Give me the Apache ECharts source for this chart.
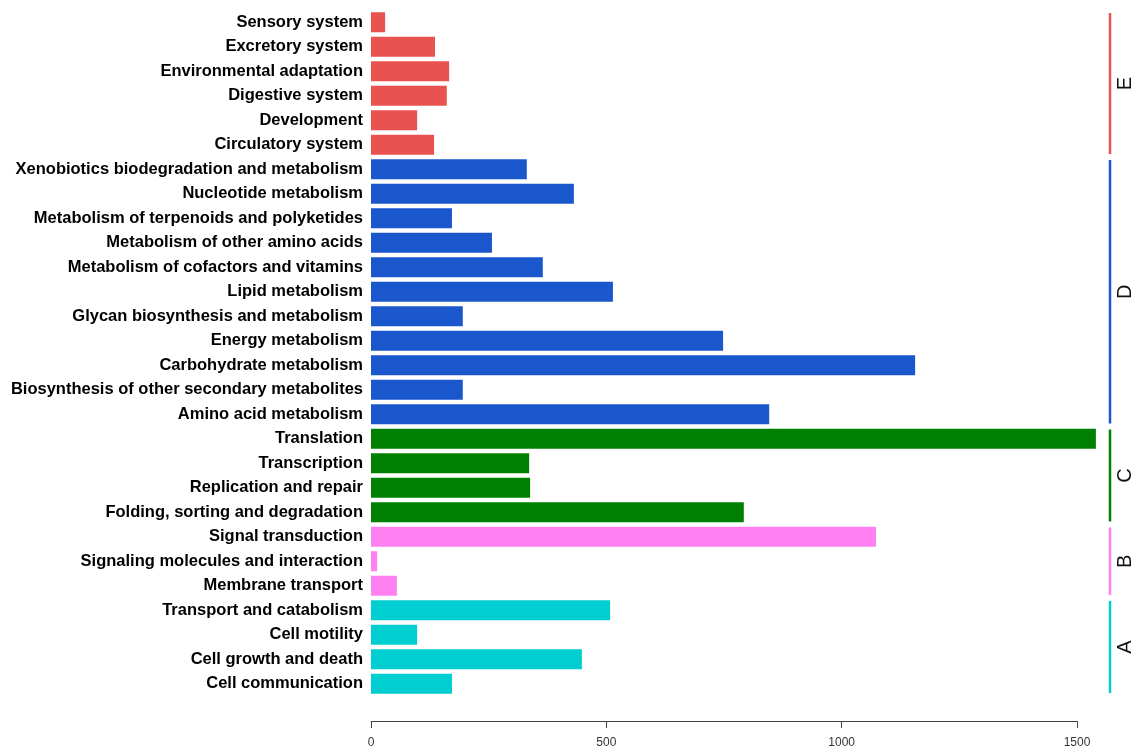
<!DOCTYPE html>
<html>
<head>
<meta charset="utf-8">
<script src="https://cdn.jsdelivr.net/npm/echarts@6/dist/echarts.min.js"></script>
<style>
  html, body { margin: 0; padding: 0; background: #fff; }
  #chart { width: 1134px; height: 749px; }
</style>
</head>
<body>
<div id="chart"></div>
<script>
// KEGG pathway categories, listed top to bottom
const categories = [
  'Sensory system', 'Excretory system', 'Environmental adaptation', 'Digestive system',
  'Development', 'Circulatory system',
  'Xenobiotics biodegradation and metabolism', 'Nucleotide metabolism',
  'Metabolism of terpenoids and polyketides', 'Metabolism of other amino acids',
  'Metabolism of cofactors and vitamins', 'Lipid metabolism',
  'Glycan biosynthesis and metabolism', 'Energy metabolism', 'Carbohydrate metabolism',
  'Biosynthesis of other secondary metabolites', 'Amino acid metabolism',
  'Translation', 'Transcription', 'Replication and repair', 'Folding, sorting and degradation',
  'Signal transduction', 'Signaling molecules and interaction', 'Membrane transport',
  'Transport and catabolism', 'Cell motility', 'Cell growth and death', 'Cell communication'
];

// Number of annotated genes per category
const counts = [
  30, 136, 166, 161, 98, 134,
  331, 431, 172, 257, 365, 514, 195, 748, 1156, 195, 846,
  1540, 336, 338, 792,
  1073, 13, 55,
  508, 98, 448, 172
];

// Top-level groups, in the same top-to-bottom order
const groupLabels = ['E', 'D', 'C', 'B', 'A'];
const groupSizes = [6, 11, 4, 3, 4];
const groupColors = ['#E8524F', '#1A57CC', '#008000', '#FF80F0', '#00CED1'];

const xTicks = [0, 500, 1000, 1500];

// Category index -> group index
const groupOf = [];
const groupSpans = [];
let start = 0;
groupSizes.forEach((n, g) => {
  for (let i = 0; i < n; i++) groupOf.push(g);
  groupSpans.push([start, start + n - 1, g]);
  start += n;
});

const barData = counts.map((v, i) => ({
  value: v,
  itemStyle: { color: groupColors[groupOf[i]] }
}));

const X_MAX = 1570;
const font = "'Liberation Sans', Arial, Helvetica, sans-serif";

const chart = echarts.init(document.getElementById('chart'), null, { renderer: 'canvas' });

chart.setOption({
  animation: false,
  backgroundColor: '#ffffff',
  grid: [
    { left: 371, right: 24, top: 10, bottom: 53 },
    { left: 371, width: 706, top: 10, bottom: 53 }
  ],
  xAxis: [
    {
      gridIndex: 0, type: 'value', min: 0, max: X_MAX,
      show: false, splitLine: { show: false }
    },
    {
      gridIndex: 1, type: 'value', min: xTicks[0], max: xTicks[xTicks.length - 1],
      interval: xTicks[1] - xTicks[0], position: 'bottom', offset: 26,
      axisLine: { show: true, lineStyle: { color: '#444', width: 1 } },
      axisTick: { show: true, inside: false, length: 7, lineStyle: { color: '#444' } },
      axisLabel: {
        color: '#333', fontSize: 12, margin: 16,
        fontFamily: "'Liberation Sans Narrow', " + font,
        formatter: v => String(v)
      },
      splitLine: { show: false }
    }
  ],
  yAxis: [
    {
      gridIndex: 0, type: 'category', data: categories, inverse: true,
      axisLine: { show: false }, axisTick: { show: false },
      axisLabel: { color: '#000', fontSize: 16.5, fontWeight: 'bold', margin: 8, fontFamily: font }
    },
    {
      gridIndex: 1, type: 'category', data: categories, inverse: true, show: false
    }
  ],
  series: [
    {
      type: 'bar', xAxisIndex: 0, yAxisIndex: 0,
      data: barData, barWidth: 20
    },
    {
      // Group brackets on the right with their letters
      type: 'custom', xAxisIndex: 0, yAxisIndex: 0,
      data: groupSpans,
      encode: { y: [0, 1] },
      renderItem: function (params, api) {
        const s = api.value(0), e = api.value(1), g = api.value(2);
        const band = api.size([0, 1])[1];
        const x = api.coord([X_MAX, s])[0];
        const y0 = api.coord([X_MAX, s])[1] - band / 2 + 3;
        const y1 = api.coord([X_MAX, e])[1] + band / 2 - 3;
        return {
          type: 'group',
          children: [
            {
              type: 'line',
              shape: { x1: x, y1: y0, x2: x, y2: y1 },
              style: { stroke: groupColors[g], lineWidth: 2.5 }
            },
            {
              type: 'text',
              x: x + 15, y: (y0 + y1) / 2,
              rotation: Math.PI / 2,
              style: {
                text: groupLabels[g], fill: '#111', fontSize: 20,
                fontFamily: font, align: 'center', verticalAlign: 'middle'
              }
            }
          ]
        };
      }
    }
  ]
});
</script>
</body>
</html>
